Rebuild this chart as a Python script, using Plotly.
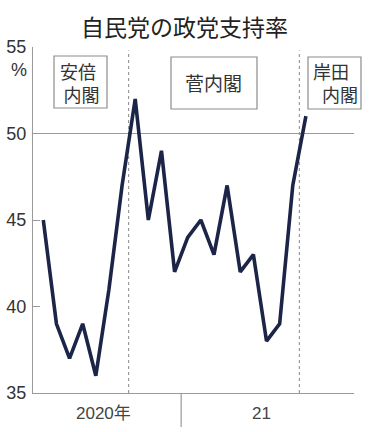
import plotly.graph_objects as go

months = ["2020-02", "2020-03", "2020-04", "2020-05", "2020-06", "2020-07", "2020-08",
          "2020-09", "2020-10", "2020-11", "2020-12", "2021-01", "2021-02", "2021-03",
          "2021-04", "2021-05", "2021-06", "2021-07", "2021-08", "2021-09", "2021-10"]
support = [45, 39, 37, 39, 36, 41, 47, 52, 45, 49, 42, 44, 45, 43, 47, 42, 43, 38, 39, 47, 51]
y_ticks = [35, 40, 45, 50, 55]
year_labels = ["2020年", "21"]
cabinets = ["安倍<br>\u2009内閣", "菅内閣", "岸田<br>\u2002内閣"]

x = list(range(len(months)))

W, H = 369, 432
L, R, T, B = 33, 354, 47, 393

def px(v):
    return (v - L) / (R - L)

def py(v):
    return (B - v) / (B - T)

CJK = "Noto Sans CJK JP"
NUM = "Liberation Sans"
GRAY = "#9a9a9a"
TXT = "#333333"

fig = go.Figure()
fig.add_trace(go.Scatter(
    x=x, y=support, mode="lines",
    line=dict(color="#1c2448", width=3.6),
    text=months, hoverinfo="text+y", showlegend=False,
))

shapes = []
shapes.append(dict(type="line", xref="paper", yref="y", x0=0, x1=1, y0=50, y1=50,
                   line=dict(color=GRAY, width=1.2), layer="below"))
for xv in [6.5, 19.5]:
    shapes.append(dict(type="line", xref="x", yref="paper", x0=xv, x1=xv, y0=0, y1=py(50.5),
                       line=dict(color="#888888", width=1, dash="dot"), layer="below"))
shapes.append(dict(type="line", xref="x", yref="paper", x0=10.5, x1=10.5, y0=0, y1=py(427),
                   line=dict(color=GRAY, width=1.2)))
for (x0, x1, y0, y1) in [(54, 107, 56, 108), (171, 257, 57, 109), (308, 361, 57, 109)]:
    shapes.append(dict(type="rect", xref="paper", yref="paper",
                       x0=px(x0), x1=px(x1), y0=py(y1), y1=py(y0),
                       line=dict(color="#8c8c8c", width=1.2), fillcolor="white"))

annotations = []
def ann(text, xx, yy, xanchor="center", size=18, font=CJK, color=TXT, align="left"):
    annotations.append(dict(text=text, xref="paper", yref="paper", x=px(xx), y=py(yy),
                            xanchor=xanchor, yanchor="middle", showarrow=False, align=align,
                            font=dict(family=font, size=size, color=color)))

ann(cabinets[0], 58, 82, "left", size=18)
ann(cabinets[1], 214, 83, size=19)
ann(cabinets[2], 311, 83, "left", size=18)
ann("%", 19, 70, size=18, font=NUM)
ann(year_labels[0], 103, 413, size=17, font=NUM + ", " + CJK, color="#444444")
ann(year_labels[1], 261, 413, size=17, font=NUM, color="#444444")

fig.update_layout(
    width=W, height=H,
    margin=dict(l=L, r=W - R, t=T, b=H - B),
    paper_bgcolor="white", plot_bgcolor="white",
    title=dict(text="自民党の政党支持率", x=0.5, xref="container", xanchor="center",
               y=1 - 28 / H, yref="container", yanchor="middle", automargin=False,
               font=dict(family=CJK, size=23, color="#222222")),
    xaxis=dict(range=[(L - 43.3) / 13.13, (R - 43.3) / 13.13], showgrid=False,
               showticklabels=False, ticks="", zeroline=False, automargin=False,
               showline=True, linecolor=GRAY, linewidth=1.2),
    yaxis=dict(range=[35, 55], tickvals=y_ticks, ticktext=[str(v) for v in y_ticks],
               showgrid=False, zeroline=False, ticks="inside", ticklen=7,
               tickcolor=GRAY, tickwidth=1.2, automargin=False,
               showline=True, linecolor=GRAY, linewidth=1.2,
               tickfont=dict(family=NUM, size=18, color=TXT),
               ticklabelstandoff=2),
    shapes=shapes, annotations=annotations,
)

fig.write_html("out.html")
